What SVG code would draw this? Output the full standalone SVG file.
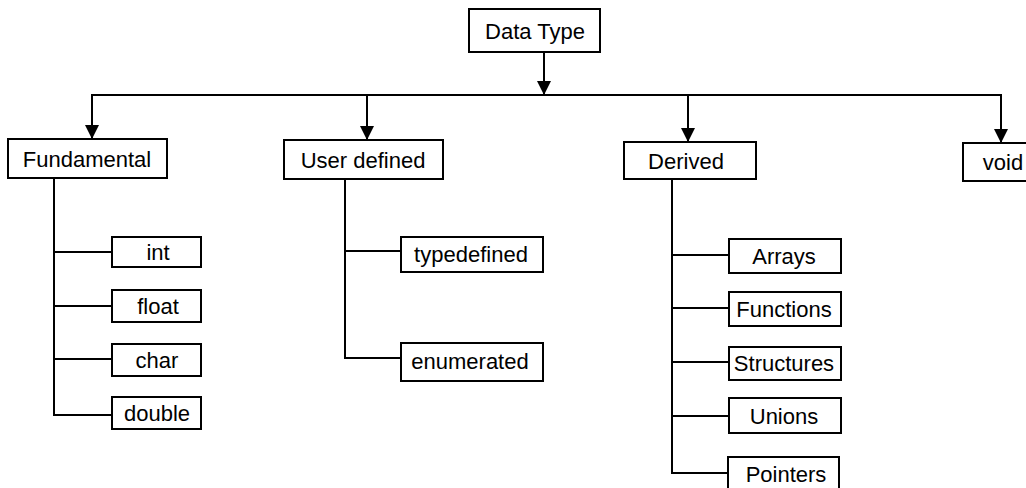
<svg xmlns="http://www.w3.org/2000/svg" width="1026" height="488" viewBox="0 0 1026 488">
<defs>
<marker id="arr" viewBox="0 0 14 14" refX="14" refY="7" markerWidth="14" markerHeight="14" markerUnits="userSpaceOnUse" orient="auto">
<path d="M0,0 L14,7 L0,14 Z" fill="#000"/>
</marker>
<style>
.box{fill:#fff;stroke:#000;stroke-width:2}
.t{font-family:"Liberation Sans",Arial,sans-serif;font-size:22px;fill:#000;text-anchor:middle;dominant-baseline:central}
.c{fill:none;stroke:#000;stroke-width:2}
</style>
</defs>
<rect width="1026" height="488" fill="#fff"/>
<g id="connectors">
<path class="c" d="M544,52 V95" marker-end="url(#arr)"/>
<path class="c" d="M92,139 V95 H1001 V143"/>
<path class="c" d="M92,95 V139" marker-end="url(#arr)"/>
<path class="c" d="M367,95 V140" marker-end="url(#arr)"/>
<path class="c" d="M688,95 V142" marker-end="url(#arr)"/>
<path class="c" d="M1001,95 V143" marker-end="url(#arr)"/>
<path class="c" d="M54,178 V415 H112 M54,252 H112 M54,306 H112 M54,359 H112"/>
<path class="c" d="M345,179 V358 H401 M345,251 H401"/>
<path class="c" d="M672,179 V473 H728 M672,255 H729 M672,308 H729 M672,362 H729 M672,416 H729"/>
</g>
<g id="datatype"><rect class="box" x="469" y="9" width="131" height="43"/><text class="t" x="535" y="31">Data Type</text></g>
<g id="fundamental"><rect class="box" x="8" y="139" width="159" height="39"/><text class="t" x="87" y="159">Fundamental</text></g>
<g id="userdefined"><rect class="box" x="284" y="140" width="159" height="39"/><text class="t" x="363" y="160">User defined</text></g>
<g id="derived"><rect class="box" x="624" y="142" width="132" height="37"/><text class="t" x="686" y="161">Derived</text></g>
<g id="void"><rect class="box" x="963" y="143" width="80" height="38"/><text class="t" x="1003" y="162">void</text></g>
<g id="int"><rect class="box" x="112" y="237" width="89" height="30"/><text class="t" x="158" y="252">int</text></g>
<g id="float"><rect class="box" x="112" y="290" width="89" height="32"/><text class="t" x="158" y="306">float</text></g>
<g id="char"><rect class="box" x="112" y="344" width="89" height="32"/><text class="t" x="157" y="360">char</text></g>
<g id="double"><rect class="box" x="112" y="397" width="89" height="32"/><text class="t" x="157" y="413">double</text></g>
<g id="typedefined"><rect class="box" x="401" y="237" width="142" height="35"/><text class="t" x="471" y="254">typedefined</text></g>
<g id="enumerated"><rect class="box" x="401" y="343" width="142" height="38"/><text class="t" x="470" y="361">enumerated</text></g>
<g id="arrays"><rect class="box" x="729" y="239" width="112" height="34"/><text class="t" x="784" y="256">Arrays</text></g>
<g id="functions"><rect class="box" x="729" y="292" width="112" height="34"/><text class="t" x="784" y="309">Functions</text></g>
<g id="structures"><rect class="box" x="729" y="347" width="112" height="33"/><text class="t" x="784" y="363">Structures</text></g>
<g id="unions"><rect class="box" x="729" y="398" width="112" height="35"/><text class="t" x="784" y="416">Unions</text></g>
<g id="pointers"><rect class="box" x="728" y="457" width="111" height="40"/><text class="t" x="786" y="474">Pointers</text></g>
</svg>
